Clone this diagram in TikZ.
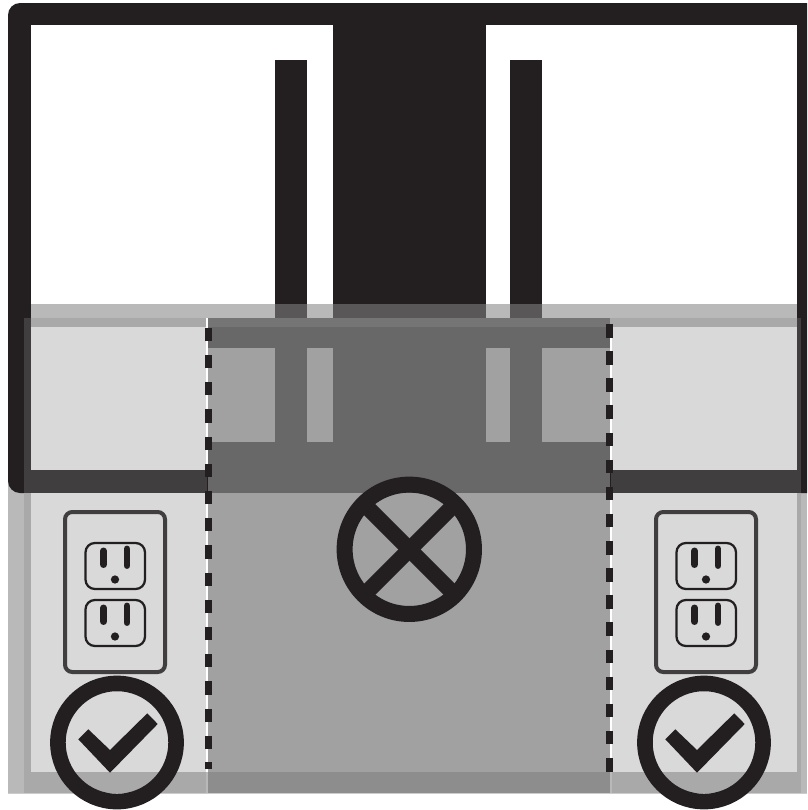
\documentclass[tikz,border=0pt]{standalone}
\definecolor{ink}{HTML}{231F20}
\definecolor{plate}{HTML}{403E3F}
\definecolor{bandA}{HTML}{B9B9B9}
\definecolor{bandB}{HTML}{A9A9A9}
\definecolor{wallL}{HTML}{D9D9D9}
\definecolor{stemBand}{HTML}{595757}
\definecolor{zoneTop}{HTML}{757575}
\definecolor{zoneDark}{HTML}{686868}
\definecolor{zoneMid}{HTML}{A1A1A1}
\definecolor{zoneLow}{HTML}{8D8D8D}
\definecolor{edgeL}{HTML}{CBCBCB}
\tikzset{
  plateBox/.style={draw=plate,line width=3pt,rounded corners=5.5pt},
  socketBox/.style={draw=ink,line width=1.7pt,rounded corners=7pt},
  slot/.style={draw=ink,line width=5.2pt,line cap=round},
  ring/.style={draw=ink},
  dashcut/.style={fill=ink}
}
\newcommand{\OutletAt}[1]{%
  \begin{scope}[xshift=#1*0.75pt]
    \draw[plateBox] (65,512) rectangle (165,672);
    \foreach \o in {0,57}{
      \draw[socketBox] (85.5,543+\o) rectangle (145,589+\o);
      \draw[slot] (103.5,551+\o) -- (103.5,564.5+\o);
      \draw[slot] (127,549+\o) -- (127,565.5+\o);
      \fill[ink] (115,579.5+\o) circle (3.1pt);
    }
  \end{scope}}
\newcommand{\CheckAt}[2]{%
  \draw[ring,line width=11.7pt] (#1,742.5) circle (44.3pt);
  \begin{scope}[xshift=#2*0.75pt]
    \fill[ink] (78.3,739.3) -- (88.3,729.3) -- (110,750) -- (147.3,713.3) -- (157.7,724) -- (110,772.7) -- cycle;
  \end{scope}}
\begin{document}
\begin{tikzpicture}[x=0.75pt,y=-0.75pt]
\useasboundingbox (0,0) rectangle (807,810);
\begin{scope}
\clip (0,0) rectangle (807,810);
% lower wall backing
\fill[edgeL] (8,470) rectangle (807,794);
\fill[bandA] (8,470) rectangle (807,793);
% frame
\fill[ink,rounded corners=9pt] (8,3) rectangle (830,493);
\fill[white] (31,25) rectangle (797,470);
\fill[ink] (332.5,25) rectangle (486,304);
\fill[ink] (275,60) rectangle (306.7,304);
\fill[ink] (510,60) rectangle (542,304);
% upper translucent band
\fill[bandA] (31,304) rectangle (797,318);
\fill[stemBand] (275,304) rectangle (306.7,318);
\fill[stemBand] (332.5,304) rectangle (486,318);
\fill[stemBand] (510,304) rectangle (542,318);
% second layer
\fill[plate] (24,318) rectangle (31,493);
\fill[plate] (797,318) rectangle (801,493);
\fill[plate] (31,470) rectangle (797,493);
\fill[bandB] (31,318) rectangle (797,326.5);
\fill[wallL] (31,326.5) rectangle (206,470);
\fill[wallL] (612,326.5) rectangle (797,470);
\fill[bandB] (24,493) rectangle (31,792.5);
\fill[bandB] (797,493) rectangle (801,792.5);
\fill[bandB] (31,772) rectangle (797,792.5);
\fill[wallL] (31,493) rectangle (206,772);
\fill[wallL] (612,493) rectangle (797,772);
% white strips by the zone edges
\fill[white] (206,318) rectangle (208,470);
\fill[white] (206,493) rectangle (208,772);
\fill[white] (610,326.5) rectangle (612,470);
\fill[white] (610,493) rectangle (612,772);
\fill[bandA] (206,772) rectangle (208,792.5);
\fill[bandA] (610,772) rectangle (612,792.5);
% blocked zone
\fill[zoneDark] (208,318) rectangle (610,493);
\fill[zoneTop] (208,318) rectangle (610,326.5);
\fill[zoneMid] (208,348) rectangle (275,441.5);
\fill[zoneMid] (306.7,348) rectangle (332.5,441.5);
\fill[zoneMid] (486,348) rectangle (510,441.5);
\fill[zoneMid] (542,348) rectangle (610,441.5);
\fill[zoneMid] (208,493) rectangle (610,772);
\fill[zoneLow] (208,772) rectangle (610,792.5);
% dashed boundaries
\draw[ink,line width=0.8pt] (207.5,470) -- (207.5,493);
\draw[ink,line width=0.8pt] (610.5,470) -- (610.5,493);
\foreach \i in {0,...,15}{
  \fill[dashcut] (205,327.7+27.2*\i) rectangle (212,341+27.2*\i);
}
\fill[dashcut] (205,762) rectangle (212,769);
\foreach \i in {0,...,16}{
  \fill[dashcut] (606,324+27.13*\i) rectangle (613,337.5+27.13*\i);
}
% outlets
\OutletAt{0}
\OutletAt{591}
% OK marks
\CheckAt{117}{0}
\CheckAt{704}{587}
% prohibited mark
\draw[ring,line width=12pt] (409.3,549.3) circle (48.5pt);
\begin{scope}
  \clip (409.3,549.3) circle (50pt);
  \draw[ink,line width=11.7pt] (343,483) -- (476,616);
  \draw[ink,line width=11.7pt] (476,483) -- (343,616);
\end{scope}
\end{scope}
\end{tikzpicture}
\end{document}
